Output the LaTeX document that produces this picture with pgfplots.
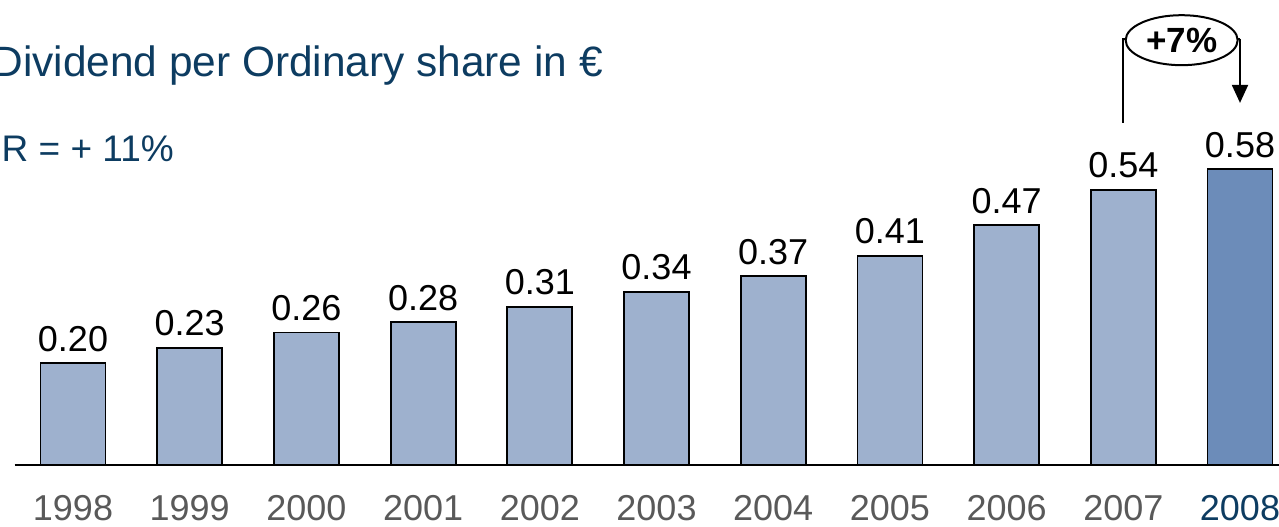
\documentclass[border=0pt]{standalone}
\usepackage{pgfplots}
\pgfplotsset{compat=1.18}
\usepackage{fontspec}
\setmainfont{Liberation Sans}
\usetikzlibrary{shapes.geometric,arrows.meta}
\definecolor{titleblue}{RGB}{13,60,97}
\definecolor{barlight}{RGB}{158,177,206}
\definecolor{bardark}{RGB}{108,140,185}
\definecolor{ticklab}{RGB}{89,89,89}
\begin{document}
\begin{tikzpicture}
\begin{axis}[
  scale only axis,
  width=1283.7pt, height=465pt,
  xmin=-0.5, xmax=10.5,
  ymin=0, ymax=0.9118,
  ybar, bar shift=0pt, bar width=65pt,
  axis x line=bottom, axis y line=none,
  x axis line style={-, line width=2pt},
  xtick={0,1,2,3,4,5,6,7,8,9,10},
  xtick style={draw=none},
  xticklabels={1998,1999,2000,2001,2002,2003,2004,2005,2006,2007,\textcolor{titleblue}{2008}},
  xticklabel style={anchor=base, yshift=-53pt, font=\fontsize{36}{40}\selectfont, text=ticklab},
  ytick=\empty,
  clip=false,
  nodes near coords,
  every node near coord/.append style={anchor=base, yshift=12pt, font=\fontsize{36}{40}\selectfont, text=black},
  /pgf/number format/.cd, fixed, fixed zerofill, precision=2, assume math mode=true,
]
\addplot[fill=barlight, draw=black, line width=1.8pt] coordinates {
 (0,0.20) (1,0.23) (2,0.26) (3,0.28) (4,0.31) (5,0.34) (6,0.37) (7,0.41) (8,0.47) (9,0.54)};
\addplot[fill=bardark, draw=black, line width=1.8pt] coordinates {(10,0.58)};
\draw[line width=2pt] (axis cs:9,0.671) -- (axis cs:9,0.836) -- (axis cs:9.05,0.836);
\draw[line width=2pt] (axis cs:9.95,0.836) -- (axis cs:10,0.836);
\draw[line width=2pt, -{Triangle[width=16pt,length=18pt]}] (axis cs:10,0.836) -- (axis cs:10,0.71);
\node[ellipse, draw, line width=2pt, fill=white, minimum width=112pt, minimum height=50pt, inner sep=0pt,
  font=\fontsize{35}{38}\selectfont\bfseries] at (axis cs:9.5,0.833) {+7\%};
\end{axis}
\node[anchor=base east, text=titleblue, font=\fontsize{42.4}{48}\selectfont, inner sep=0pt] at (588.35pt,388pt) {Dividend per Ordinary share in €};
\node[anchor=base east, text=titleblue, font=\fontsize{37}{42}\selectfont, inner sep=0pt] at (159.35pt,303pt) {CAGR = + 11\%};
\pgfresetboundingbox
\path[use as bounding box] (-14.65pt,-62pt) rectangle (1264.35pt,465pt);
\end{tikzpicture}
\end{document}
